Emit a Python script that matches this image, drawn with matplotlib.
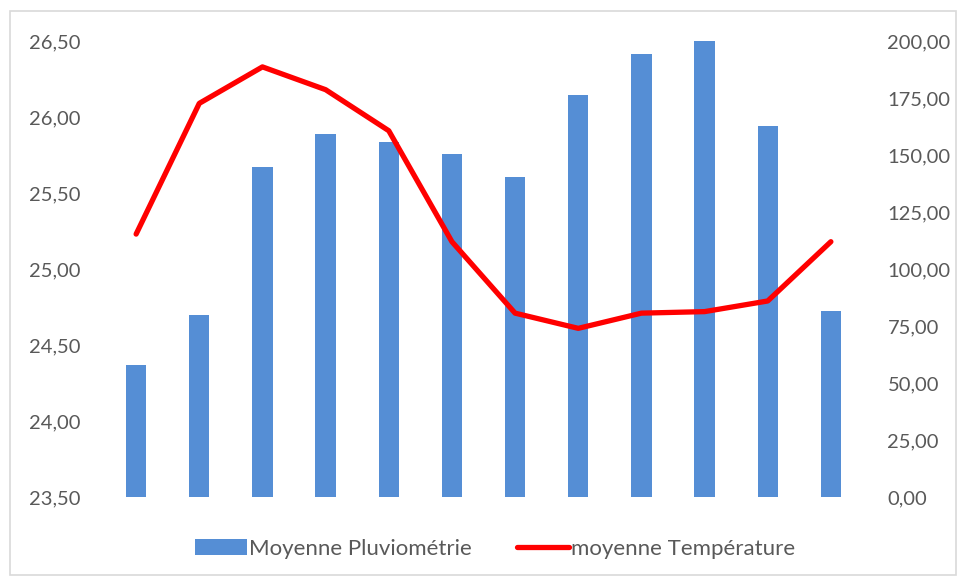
import matplotlib
matplotlib.use("Agg")
import matplotlib.pyplot as plt
from matplotlib.patches import Rectangle
from matplotlib.ticker import FuncFormatter, MultipleLocator
import numpy as np

months = list(range(1, 13))
pluvio = [58, 80, 144.7, 159.2, 155.7, 150.4, 140.4, 176.3, 194.3, 200, 162.7, 81.6]
temp = [25.23, 26.09, 26.33, 26.18, 25.91, 25.18, 24.71, 24.61, 24.71, 24.72, 24.79, 25.18]

plt.rcParams['font.family'] = ['Lato', 'DejaVu Sans']
txt = '#595959'

fig = plt.figure(figsize=(9.6, 5.78), dpi=100)
fig.patches.append(Rectangle((10/960, 3/578), 946/960, (578-11-3)/578, transform=fig.transFigure,
                             fill=False, edgecolor='#D9D9D9', linewidth=1.2))

ax = fig.add_axes([0.1089, 0.140, 0.7895, 0.789])
ax2 = ax.twinx()
x = np.arange(len(months))

ax2.bar(x, pluvio, width=0.32, color='#558ED5', label='Moyenne Pluviométrie', zorder=1)
ax.plot(x, temp, color='#FF0000', linewidth=3.8, label='moyenne Température', solid_capstyle='round', zorder=3)

ax.set_zorder(ax2.get_zorder() + 1)
ax.patch.set_visible(False)

ax.set_xlim(-0.5, 11.5)
ax.set_ylim(23.5, 26.5)
ax2.set_ylim(0, 200)
ax.yaxis.set_major_locator(MultipleLocator(0.5))
ax2.yaxis.set_major_locator(MultipleLocator(25))
ax.yaxis.set_major_formatter(FuncFormatter(lambda v, p: f"{v:.2f}".replace('.', ',')))
ax2.yaxis.set_major_formatter(FuncFormatter(lambda v, p: f"{v:.2f}".replace('.', ',')))

for a in (ax, ax2):
    for s in a.spines.values():
        s.set_visible(False)
    a.tick_params(axis='both', length=0, labelsize=14.5, colors=txt)
ax.set_xticks([])
ax.tick_params(axis='y', pad=17)
ax2.tick_params(axis='y', pad=18)

h1, l1 = ax2.get_legend_handles_labels()
h2, l2 = ax.get_legend_handles_labels()
fig.legend(h1 + h2, l1 + l2, loc='center', bbox_to_anchor=(495/960, 1 - 549/578), ncol=2,
           frameon=False, fontsize=16, labelcolor=txt, handlelength=2.35, handletextpad=0.1,
           columnspacing=2.0)

fig.savefig('out.png', dpi=100)
